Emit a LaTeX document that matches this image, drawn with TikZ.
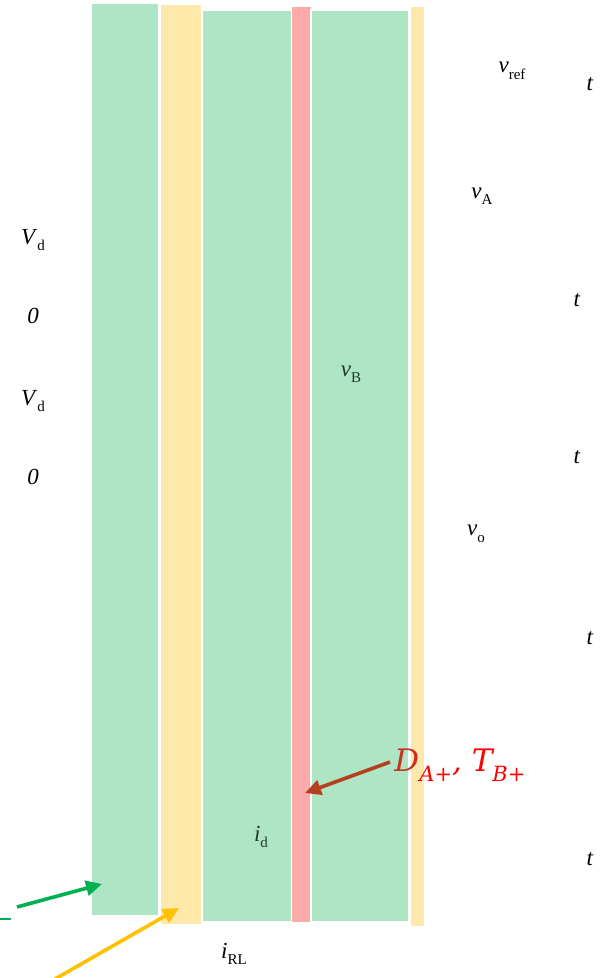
\documentclass[tikz,border=0pt]{standalone}
\usepackage{fontspec}
\setmainfont{Liberation Serif}
\newfontfamily\dfont{DejaVu Serif}
\usetikzlibrary{arrows.meta}
\definecolor{bandgreen}{HTML}{ADE5C5}
\definecolor{bandyellow}{HTML}{FFE9AA}
\definecolor{bandpink}{HTML}{FFAAAA}
\definecolor{arrgreen}{HTML}{00B050}
\definecolor{arryellow}{HTML}{FFC000}
\definecolor{arrbrown}{HTML}{B5401F}
\definecolor{darktext}{HTML}{1E3A2C}
\definecolor{dred}{HTML}{C8321E}
\newcommand\lbl[2]{\textit{#1}\raisebox{-0.28em}{\fontsize{15}{15}\selectfont #2}}
\newcommand\dsub[1]{\raisebox{-0.32em}{\fontsize{21}{21}\selectfont\itshape #1}}
\tikzset{
  band/.style={draw=white, line width=1.2pt},
  lab/.style={font=\fontsize{23}{26}\selectfont, inner sep=0pt},
  pointer/.style={line width=3.6pt, -{Triangle[length=16pt,width=15pt]}},
}
\begin{document}
\begin{tikzpicture}[x=1pt,y=-1pt]
\useasboundingbox (0,0) rectangle (604,978);
% bands
\fill[bandgreen, band] (91,3) rectangle (159,916);
\fill[bandyellow, band] (160,4) rectangle (202,925);
\fill[bandgreen, band] (202,10) rectangle (292,922);
\fill[bandpink] (292,7) rectangle (311,922);
\fill[bandgreen, band] (311,10) rectangle (409,922);
\fill[bandyellow, band] (410,6) rectangle (425,927);
% labels
\node[lab] (vref) at (512,71) {\lbl{v}{ref}};
\node[lab] (t1) at (590,84) {\textit{t}};
\node[lab] (vA) at (482,196) {\lbl{v}{A}};
\node[lab] (t2) at (577,300) {\textit{t}};
\node[lab] (Vd1) at (33,240) {\lbl{V}{d}};
\node[lab] (z1) at (33,316) {\textit{0}};
\node[lab] (Vd2) at (33,401) {\lbl{V}{d}};
\node[lab] (z2) at (33,477) {\textit{0}};
\node[lab, text=darktext] (vB) at (351,374) {\lbl{v}{B}};
\node[lab] (t3) at (577,457) {\textit{t}};
\node[lab] (vo) at (476,534) {\lbl{v}{o}};
\node[lab] (t4) at (590,638) {\textit{t}};
\node[lab, text=darktext] (id) at (261,837) {\lbl{i}{d}};
\node[lab] (t5) at (590,859) {\textit{t}};
\node[lab] (iRL) at (234,954) {\lbl{i}{RL}};
\node[inner sep=0pt, text=red, font=\dfont\fontsize{31}{36}\selectfont\itshape] (dlab) at (460,765) {\textcolor{dred}{D}\dsub{A+}, T\dsub{B+}};
% arrows
\coordinate (gs) at (17,907);
\coordinate (ge) at (102,884);
\coordinate (ys) at (55,979);
\coordinate (ye) at (179,908);
\coordinate (bs) at (390,762);
\coordinate (be) at (305,793);
\coordinate (gl1) at (0,919);
\coordinate (gl2) at (11,919);
\draw[pointer, arrgreen] (gs) -- (ge);
\draw[line width=1.4pt, arrgreen] (gl1) -- (gl2);
\draw[pointer, arryellow] (ys) -- (ye);
\draw[pointer, arrbrown] (bs) -- (be);
\end{tikzpicture}
\end{document}
